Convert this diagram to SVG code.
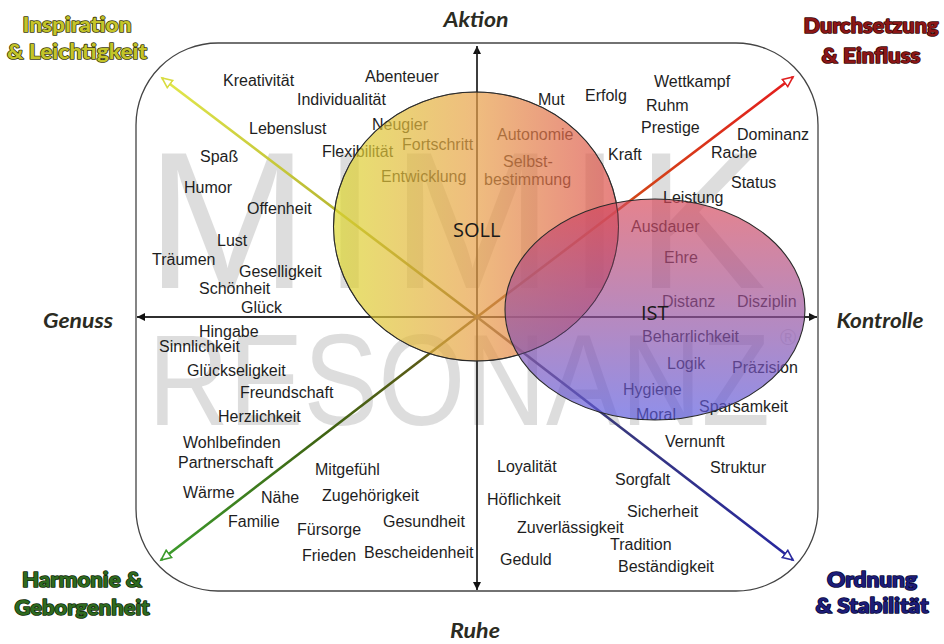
<svg xmlns="http://www.w3.org/2000/svg" xmlns:xlink="http://www.w3.org/1999/xlink" width="944" height="644" viewBox="0 0 944 644">
<style>
.t{font-family:"Liberation Sans",Arial,sans-serif;font-size:16px;fill:#1e1e1e}
.ax{font-family:Lato,"Open Sans","Liberation Sans",sans-serif;font-size:20px;font-weight:bold;font-style:italic;fill:#2b2b22;text-anchor:middle}
.cn{font-family:Lato,"Open Sans","Liberation Sans",sans-serif;font-size:21px;font-weight:900;text-anchor:middle;paint-order:stroke;stroke-width:1.6;stroke-linejoin:round}
.wm{font-family:"Liberation Sans",Arial,sans-serif;fill:#000;opacity:0.13}
.lbl{font-family:"Open Sans","Liberation Sans",sans-serif;font-size:20px;fill:#1a1a1a}
.axis{stroke:#222;stroke-width:1.3;fill:none}
.diag{stroke-width:2.6;fill:none}
</style>
<defs>
<marker id="ah" markerUnits="userSpaceOnUse" markerWidth="10" markerHeight="10" refX="8" refY="4" orient="auto">
<path d="M0,0 L8,4 L0,8 z" fill="#111"/>
</marker>
<marker id="oy" markerUnits="userSpaceOnUse" markerWidth="16" markerHeight="16" refX="11" refY="6" orient="auto">
<path d="M1,1.5 L11,6 L1,10.5 z" fill="#fff" stroke="#d8dc40" stroke-width="1.6"/>
</marker>
<marker id="or" markerUnits="userSpaceOnUse" markerWidth="16" markerHeight="16" refX="11" refY="6" orient="auto">
<path d="M1,1.5 L11,6 L1,10.5 z" fill="#fff" stroke="#e02020" stroke-width="1.6"/>
</marker>
<marker id="og" markerUnits="userSpaceOnUse" markerWidth="16" markerHeight="16" refX="11" refY="6" orient="auto">
<path d="M1,1.5 L11,6 L1,10.5 z" fill="#fff" stroke="#3c9c2c" stroke-width="1.6"/>
</marker>
<marker id="ob" markerUnits="userSpaceOnUse" markerWidth="16" markerHeight="16" refX="11" refY="6" orient="auto">
<path d="M1,1.5 L11,6 L1,10.5 z" fill="#fff" stroke="#2a2a9e" stroke-width="1.6"/>
</marker>
<linearGradient id="gTL" gradientUnits="userSpaceOnUse" x1="477" y1="317" x2="162" y2="78">
<stop offset="0" stop-color="#5e5a14"/><stop offset="0.45" stop-color="#b8b832"/><stop offset="1" stop-color="#e2e84c"/>
</linearGradient>
<linearGradient id="gTR" gradientUnits="userSpaceOnUse" x1="477" y1="317" x2="793" y2="77">
<stop offset="0" stop-color="#7a5a1c"/><stop offset="0.45" stop-color="#d04a18"/><stop offset="1" stop-color="#e41c1c"/>
</linearGradient>
<linearGradient id="gBL" gradientUnits="userSpaceOnUse" x1="477" y1="317" x2="161" y2="560">
<stop offset="0" stop-color="#6a561a"/><stop offset="0.5" stop-color="#3e6412"/><stop offset="1" stop-color="#3c9c2c"/>
</linearGradient>
<linearGradient id="gBR" gradientUnits="userSpaceOnUse" x1="477" y1="317" x2="793" y2="560">
<stop offset="0" stop-color="#6a6040"/><stop offset="0.4" stop-color="#3a3a7a"/><stop offset="1" stop-color="#2626a0"/>
</linearGradient>
<linearGradient id="gSoll" x1="0" y1="0" x2="1" y2="0">
<stop offset="0" stop-color="#dcd830"/><stop offset="0.5" stop-color="#e8a048"/><stop offset="1" stop-color="#dc4c4c"/>
</linearGradient>
<linearGradient id="gIst" x1="0" y1="0" x2="0" y2="1">
<stop offset="0" stop-color="#d84858"/><stop offset="1" stop-color="#5a5ae0"/>
</linearGradient>
</defs>
<rect width="944" height="644" fill="#fff"/>

<g id="watermark">
<text class="wm" x="146" y="288" font-size="195" textLength="620" lengthAdjust="spacing">MIMIK</text>
<text class="wm" x="148" y="425" font-size="130" textLength="622" lengthAdjust="spacingAndGlyphs">RESONANZ</text>
<text class="wm" x="780" y="345" font-size="22">®</text>
</g>

<g id="frame">
<rect x="136" y="43" width="682" height="548" rx="82" ry="82" fill="none" stroke="#444" stroke-width="1.3"/>
</g>

<g id="connectors">
<line class="axis" x1="477" y1="590" x2="477" y2="46" marker-end="url(#ah)"/>
<line class="axis" x1="477" y1="46" x2="477" y2="590" marker-end="url(#ah)"/>
<line class="axis" x1="137" y1="317" x2="817" y2="317" marker-end="url(#ah)"/>
<line class="axis" x1="817" y1="317" x2="137" y2="317" marker-end="url(#ah)"/>
<line class="diag" x1="477" y1="317" x2="162" y2="78" stroke="url(#gTL)" marker-end="url(#oy)"/>
<line class="diag" x1="477" y1="317" x2="793" y2="77" stroke="url(#gTR)" marker-end="url(#or)"/>
<line class="diag" x1="477" y1="317" x2="161" y2="560" stroke="url(#gBL)" marker-end="url(#og)"/>
<line class="diag" x1="477" y1="317" x2="793" y2="560" stroke="url(#gBR)" marker-end="url(#ob)"/>
</g>

<g id="words-inspiration">
<text class="t" x="223" y="86">Kreativität</text>
<text class="t" x="365" y="82">Abenteuer</text>
<text class="t" x="297" y="105">Individualität</text>
<text class="t" x="249" y="134">Lebenslust</text>
<text class="t" x="372" y="130">Neugier</text>
<text class="t" x="322" y="157">Flexibilität</text>
<text class="t" x="402" y="150">Fortschritt</text>
<text class="t" x="381" y="182">Entwicklung</text>
<text class="t" x="200" y="162">Spaß</text>
<text class="t" x="184" y="193">Humor</text>
<text class="t" x="247" y="214">Offenheit</text>
<text class="t" x="217" y="246">Lust</text>
<text class="t" x="152" y="265">Träumen</text>
<text class="t" x="239" y="277">Geselligkeit</text>
<text class="t" x="199" y="294">Schönheit</text>
<text class="t" x="241" y="313">Glück</text>
</g>

<g id="words-harmonie">
<text class="t" x="199" y="337">Hingabe</text>
<text class="t" x="159" y="352">Sinnlichkeit</text>
<text class="t" x="187" y="376">Glückseligkeit</text>
<text class="t" x="240" y="398">Freundschaft</text>
<text class="t" x="218" y="422">Herzlichkeit</text>
<text class="t" x="183" y="448">Wohlbefinden</text>
<text class="t" x="178" y="468">Partnerschaft</text>
<text class="t" x="183" y="498">Wärme</text>
<text class="t" x="261" y="503">Nähe</text>
<text class="t" x="228" y="527">Familie</text>
<text class="t" x="297" y="535">Fürsorge</text>
<text class="t" x="302" y="561">Frieden</text>
<text class="t" x="315" y="475">Mitgefühl</text>
<text class="t" x="322" y="501">Zugehörigkeit</text>
<text class="t" x="383" y="527">Gesundheit</text>
<text class="t" x="364" y="558">Bescheidenheit</text>
</g>

<g id="words-ordnung">
<text class="t" x="497" y="472">Loyalität</text>
<text class="t" x="487" y="505">Höflichkeit</text>
<text class="t" x="517" y="533">Zuverlässigkeit</text>
<text class="t" x="500" y="565">Geduld</text>
<text class="t" x="615" y="485">Sorgfalt</text>
<text class="t" x="627" y="517">Sicherheit</text>
<text class="t" x="610" y="550">Tradition</text>
<text class="t" x="618" y="572">Beständigkeit</text>
<text class="t" x="665" y="447">Vernunft</text>
<text class="t" x="710" y="473">Struktur</text>
<text class="t" x="642" y="342">Beharrlichkeit</text>
<text class="t" x="667" y="369">Logik</text>
<text class="t" x="732" y="373">Präzision</text>
<text class="t" x="623" y="395">Hygiene</text>
<text class="t" x="699" y="412">Sparsamkeit</text>
<text class="t" x="636" y="420">Moral</text>
</g>

<g id="words-durchsetzung">
<text class="t" x="538" y="105">Mut</text>
<text class="t" x="585" y="101">Erfolg</text>
<text class="t" x="654" y="87">Wettkampf</text>
<text class="t" x="646" y="111">Ruhm</text>
<text class="t" x="641" y="133">Prestige</text>
<text class="t" x="737" y="140">Dominanz</text>
<text class="t" x="608" y="160">Kraft</text>
<text class="t" x="711" y="158">Rache</text>
<text class="t" x="731" y="188">Status</text>
<text class="t" x="497" y="140">Autonomie</text>
<text class="t" x="503" y="167">Selbst-</text>
<text class="t" x="484" y="185">bestimmung</text>
<text class="t" x="663" y="203">Leistung</text>
<text class="t" x="631" y="232">Ausdauer</text>
<text class="t" x="664" y="263">Ehre</text>
<text class="t" x="662" y="307">Distanz</text>
<text class="t" x="737" y="307">Disziplin</text>
</g>

<g id="soll">
<ellipse cx="476" cy="226.5" rx="142.5" ry="134.5" fill="url(#gSoll)" fill-opacity="0.7" stroke="#2a2a2a" stroke-width="1.1"/>
</g>
<g id="ist">
<ellipse cx="655" cy="309.5" rx="150" ry="110.5" fill="url(#gIst)" fill-opacity="0.68" stroke="#2a2a2a" stroke-width="1.1"/>
<ellipse cx="476" cy="226.5" rx="142.5" ry="134.5" fill="none" stroke="#2a2a2a" stroke-width="1" stroke-opacity="0.6"/>
</g>
<g id="soll-label"><text class="lbl" x="453" y="237">SOLL</text></g>
<g id="ist-label"><text class="lbl" x="641" y="320">IST</text></g>

<g id="axis-labels">
<text class="ax" x="476" y="27" textLength="65" lengthAdjust="spacingAndGlyphs">Aktion</text>
<text class="ax" x="78" y="328" textLength="70" lengthAdjust="spacingAndGlyphs">Genuss</text>
<text class="ax" x="880" y="328" textLength="87" lengthAdjust="spacingAndGlyphs">Kontrolle</text>
<text class="ax" x="475" y="638" textLength="50" lengthAdjust="spacingAndGlyphs">Ruhe</text>
</g>

<g id="corner-inspiration">
<text class="cn" x="77" y="32" fill="#c4c42a" stroke="#3c3c0c" textLength="109" lengthAdjust="spacingAndGlyphs">Inspiration</text>
<text class="cn" x="77" y="59" fill="#c4c42a" stroke="#3c3c0c" textLength="140" lengthAdjust="spacingAndGlyphs">&amp; Leichtigkeit</text>
</g>
<g id="corner-durchsetzung">
<text class="cn" x="871" y="33" fill="#8c1616" stroke="#3a0606" stroke-width="0.8" textLength="135" lengthAdjust="spacingAndGlyphs">Durchsetzung</text>
<text class="cn" x="871" y="63" fill="#8c1616" stroke="#3a0606" stroke-width="0.8" textLength="99" lengthAdjust="spacingAndGlyphs">&amp; Einfluss</text>
</g>
<g id="corner-harmonie">
<text class="cn" x="82" y="587" fill="#2e6a20" stroke="#0e2a06" stroke-width="0.8" textLength="120" lengthAdjust="spacingAndGlyphs">Harmonie &amp;</text>
<text class="cn" x="82" y="615" fill="#2e6a20" stroke="#0e2a06" stroke-width="0.8" textLength="135" lengthAdjust="spacingAndGlyphs">Geborgenheit</text>
</g>
<g id="corner-ordnung">
<text class="cn" x="872" y="587" fill="#1c1c78" stroke="#080838" stroke-width="0.8" textLength="90" lengthAdjust="spacingAndGlyphs">Ordnung</text>
<text class="cn" x="872" y="613" fill="#1c1c78" stroke="#080838" stroke-width="0.8" textLength="113" lengthAdjust="spacingAndGlyphs">&amp; Stabilität</text>
</g>
</svg>
